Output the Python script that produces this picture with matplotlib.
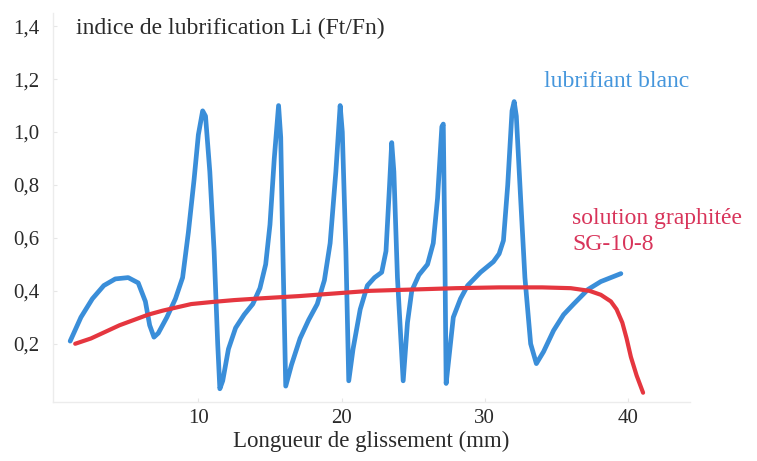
import matplotlib
matplotlib.use("Agg")
import matplotlib.pyplot as plt

# global look: serif text, like the scanned figure
plt.rcParams["font.family"] = ["Liberation Serif", "DejaVu Serif"]

# %% DATA
# lubrifiant blanc (blue curve)
blanc_x = [1.05, 1.8, 2.6, 3.4, 4.2, 5.1, 5.8, 6.3, 6.6, 6.9, 7.2, 7.8, 8.4, 8.9,
           9.3, 9.7, 10.0, 10.3, 10.5, 10.8, 11.1, 11.35, 11.5, 11.7, 12.1, 12.6,
           13.2, 13.8, 14.3, 14.7, 15.0, 15.3, 15.6, 15.75, 15.9, 16.1, 16.5, 17.1,
           17.7, 18.3, 18.8, 19.2, 19.6, 19.9, 20.05, 20.3, 20.5, 20.8, 21.3, 21.8,
           22.3, 22.8, 23.1, 23.35, 23.5, 23.65, 23.9, 24.3, 24.6, 24.9, 25.4, 26.0,
           26.4, 26.7, 27.0, 27.1, 27.2, 27.3, 27.5, 27.8, 28.3, 28.8, 29.7, 30.6,
           31.0, 31.3, 31.6, 31.9, 32.05, 32.2, 32.5, 32.8, 33.2, 33.6, 34.1, 34.8,
           35.5, 36.2, 37.2, 38.1, 38.8, 39.5]
blanc_y = [0.21, 0.30, 0.37, 0.42, 0.445, 0.45, 0.43, 0.36, 0.27, 0.225, 0.24, 0.30,
           0.37, 0.45, 0.62, 0.82, 0.99, 1.08, 1.06, 0.85, 0.55, 0.20, 0.03, 0.06,
           0.18, 0.26, 0.31, 0.35, 0.41, 0.50, 0.65, 0.90, 1.10, 0.98, 0.55, 0.04,
           0.12, 0.22, 0.29, 0.35, 0.44, 0.58, 0.85, 1.10, 1.00, 0.55, 0.06, 0.18,
           0.33, 0.42, 0.45, 0.47, 0.55, 0.80, 0.96, 0.85, 0.45, 0.06, 0.28, 0.40,
           0.46, 0.50, 0.58, 0.75, 1.02, 1.03, 0.60, 0.05, 0.15, 0.30, 0.37, 0.42,
           0.47, 0.51, 0.54, 0.59, 0.80, 1.08, 1.115, 1.06, 0.75, 0.45, 0.20, 0.125,
           0.17, 0.25, 0.31, 0.35, 0.405, 0.435, 0.45, 0.465]

# solution graphitée SG-10-8 (red curve)
graph_x = [1.4, 2.5, 3.5, 4.5, 5.5, 6.5, 7.5, 8.3, 9.5, 11.0, 12.5, 14.5, 17.0,
           19.5, 22.0, 25.0, 28.0, 31.0, 34.0, 36.0, 37.3, 38.1, 38.8, 39.2, 39.6,
           39.9, 40.2, 40.6, 41.05]
graph_y = [0.20, 0.22, 0.245, 0.27, 0.29, 0.31, 0.325, 0.335, 0.35, 0.358, 0.365,
           0.372, 0.38, 0.39, 0.40, 0.405, 0.41, 0.413, 0.413, 0.41, 0.40, 0.385,
           0.36, 0.33, 0.28, 0.22, 0.15, 0.08, 0.015]

x_ticks = [10, 20, 30, 40]
x_ticklabels = ["10", "20", "30", "40"]
y_ticks = [0.2, 0.4, 0.6, 0.8, 1.0, 1.2, 1.4]
y_ticklabels = ["0,2", "0,4", "0,6", "0,8", "1,0", "1,2", "1,4"]

# %% PLOT
fig = plt.figure(figsize=(7.57, 4.61), dpi=100)
ax = fig.add_axes([0.070, 0.128, 0.841, 0.844])

ax.plot(blanc_x, blanc_y, color="#3a8ed9", lw=3.4, solid_capstyle="round",
        solid_joinstyle="round", zorder=2)
ax.plot(graph_x, graph_y, color="#e5363f", lw=3.0, solid_capstyle="round",
        solid_joinstyle="round", zorder=3)

ax.set_xlim(-0.15, 44.3)
ax.set_ylim(-0.02, 1.45)

ax.set_xticks(x_ticks)
ax.set_xticklabels(x_ticklabels)
ax.set_yticks(y_ticks)
ax.set_yticklabels(y_ticklabels)
ax.tick_params(axis="both", direction="in", length=3, color="#e6e6e6",
               labelsize=15, labelcolor="#2a2a2a")
ax.tick_params(axis="y", pad=10)
ax.tick_params(axis="x", pad=5)

for side in ["top", "right"]:
    ax.spines[side].set_visible(False)
for side in ["left", "bottom"]:
    ax.spines[side].set_color("#ececec")
    ax.spines[side].set_linewidth(1.0)

ax.set_xlabel("Longueur de glissement (mm)", fontsize=16.5, color="#2a2a2a",
              labelpad=2)

# title-like y label and curve labels
fig.text(0.101, 0.938, "indice de lubrification Li (Ft/Fn)", fontsize=17,
         color="#2a2a2a", ha="left", va="center")
ax.text(34.1, 1.19, "lubrifiant blanc", fontsize=17, color="#4596dc",
        ha="left", va="center")
ax.text(36.1, 0.675, "solution graphitée", fontsize=17, color="#d8345a",
        ha="left", va="center")
ax.text(36.1, 0.575, "SG-10-8", fontsize=17, color="#d8345a",
        ha="left", va="center")

fig.savefig("out.png", dpi=100)
